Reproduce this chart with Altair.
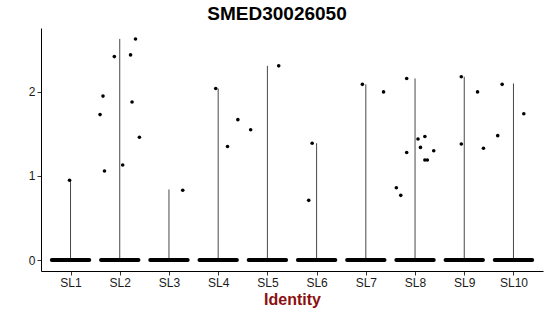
import altair as alt
import pandas as pd

categories = ["SL1", "SL2", "SL3", "SL4", "SL5", "SL6", "SL7", "SL8", "SL9", "SL10"]
violin_max = [0.95, 2.63, 0.84, 2.04, 2.31, 1.39, 2.09, 2.16, 2.18, 2.10]

# expressing cells: cluster, horizontal jitter (fraction of slot), expression
pt_cluster = ["SL1",
              "SL2", "SL2", "SL2", "SL2", "SL2", "SL2", "SL2", "SL2", "SL2",
              "SL3",
              "SL4", "SL4", "SL4",
              "SL5", "SL5",
              "SL6", "SL6",
              "SL7", "SL7",
              "SL8", "SL8", "SL8", "SL8", "SL8", "SL8", "SL8", "SL8", "SL8", "SL8",
              "SL9", "SL9", "SL9", "SL9",
              "SL10", "SL10", "SL10"]
pt_jitter = [-0.02,
             -0.40, -0.34, -0.31, -0.11, 0.06, 0.22, 0.25, 0.32, 0.40,
             0.28,
             -0.05, 0.19, 0.40,
             -0.34, 0.23,
             -0.09, -0.16,
             -0.07, 0.36,
             -0.17, 0.06, 0.11, 0.20, 0.20, 0.25, 0.38, -0.17, -0.38, -0.29,
             -0.06, -0.06, 0.27, 0.39,
             -0.23, -0.32, 0.21]
pt_value = [0.95,
            1.73, 1.95, 1.06, 2.42, 1.13, 2.44, 1.88, 2.63, 1.46,
            0.83,
            2.04, 1.35, 1.67,
            1.55, 2.31,
            1.39, 0.71,
            2.09, 2.00,
            2.16, 1.44, 1.34, 1.47, 1.19, 1.19, 1.30, 1.28, 0.86, 0.77,
            2.18, 1.38, 2.00, 1.33,
            2.09, 1.48, 1.74]

zero_half_width = 0.38

idx = {c: i + 1 for i, c in enumerate(categories)}
vdf = pd.DataFrame({"cat": categories, "pos": [idx[c] for c in categories],
                    "lo": [0.0] * len(categories), "hi": violin_max,
                    "zl": [idx[c] - zero_half_width for c in categories],
                    "zr": [idx[c] + zero_half_width for c in categories]})
pdf = pd.DataFrame({"cat": pt_cluster, "value": pt_value,
                    "pos": [idx[c] + j for c, j in zip(pt_cluster, pt_jitter)]})

label_arr = "[" + ",".join("'%s'" % c for c in categories) + "]"
xscale = alt.Scale(domain=[0.4, len(categories) + 0.6], nice=False, zero=False)
yscale = alt.Scale(domain=[-0.13, 2.76], nice=False, zero=False)

xaxis = alt.Axis(values=list(range(1, len(categories) + 1)),
                 labelExpr=label_arr + "[datum.value - 1]",
                 title="Identity", grid=False)
yaxis = alt.Axis(values=[0, 1, 2], title=None, grid=False, format="d")

violins = alt.Chart(vdf).mark_rule(color="#333333", strokeWidth=0.9).encode(
    x=alt.X("pos:Q", scale=xscale, axis=xaxis),
    y=alt.Y("lo:Q", scale=yscale, axis=yaxis),
    y2="hi:Q",
)

zeros = alt.Chart(vdf).mark_rule(color="black", strokeWidth=4, strokeCap="round").encode(
    x=alt.X("zl:Q", scale=xscale),
    x2="zr:Q",
    y=alt.Y("lo:Q", scale=yscale),
)

points = alt.Chart(pdf).mark_circle(color="black", opacity=1, size=13).encode(
    x=alt.X("pos:Q", scale=xscale),
    y=alt.Y("value:Q", scale=yscale),
)

chart = alt.layer(violins, zeros, points).properties(
    width=502, height=243,
    title=alt.TitleParams("SMED30026050", anchor="middle", dx=-15, offset=4,
                          font="Liberation Sans", fontSize=19, fontWeight="bold",
                          color="black"),
    autosize=alt.AutoSizeParams(type="none"),
    padding={"left": 41, "top": 28, "right": 7, "bottom": 45},
).configure_view(stroke=None).configure_axis(
    domainColor="black", domainWidth=1, tickColor="#333333", tickSize=4, tickWidth=1,
    labelFont="Liberation Sans", labelFontSize=12, labelColor="#1a1a1a", labelPadding=2,
    titleFont="Liberation Sans", titleFontSize=16, titleFontWeight="bold",
    titleColor="#8B1010", titlePadding=3,
).configure_axisX(labelAngle=0)

chart.save("out.html", embed_options={"renderer": "svg", "actions": False})
